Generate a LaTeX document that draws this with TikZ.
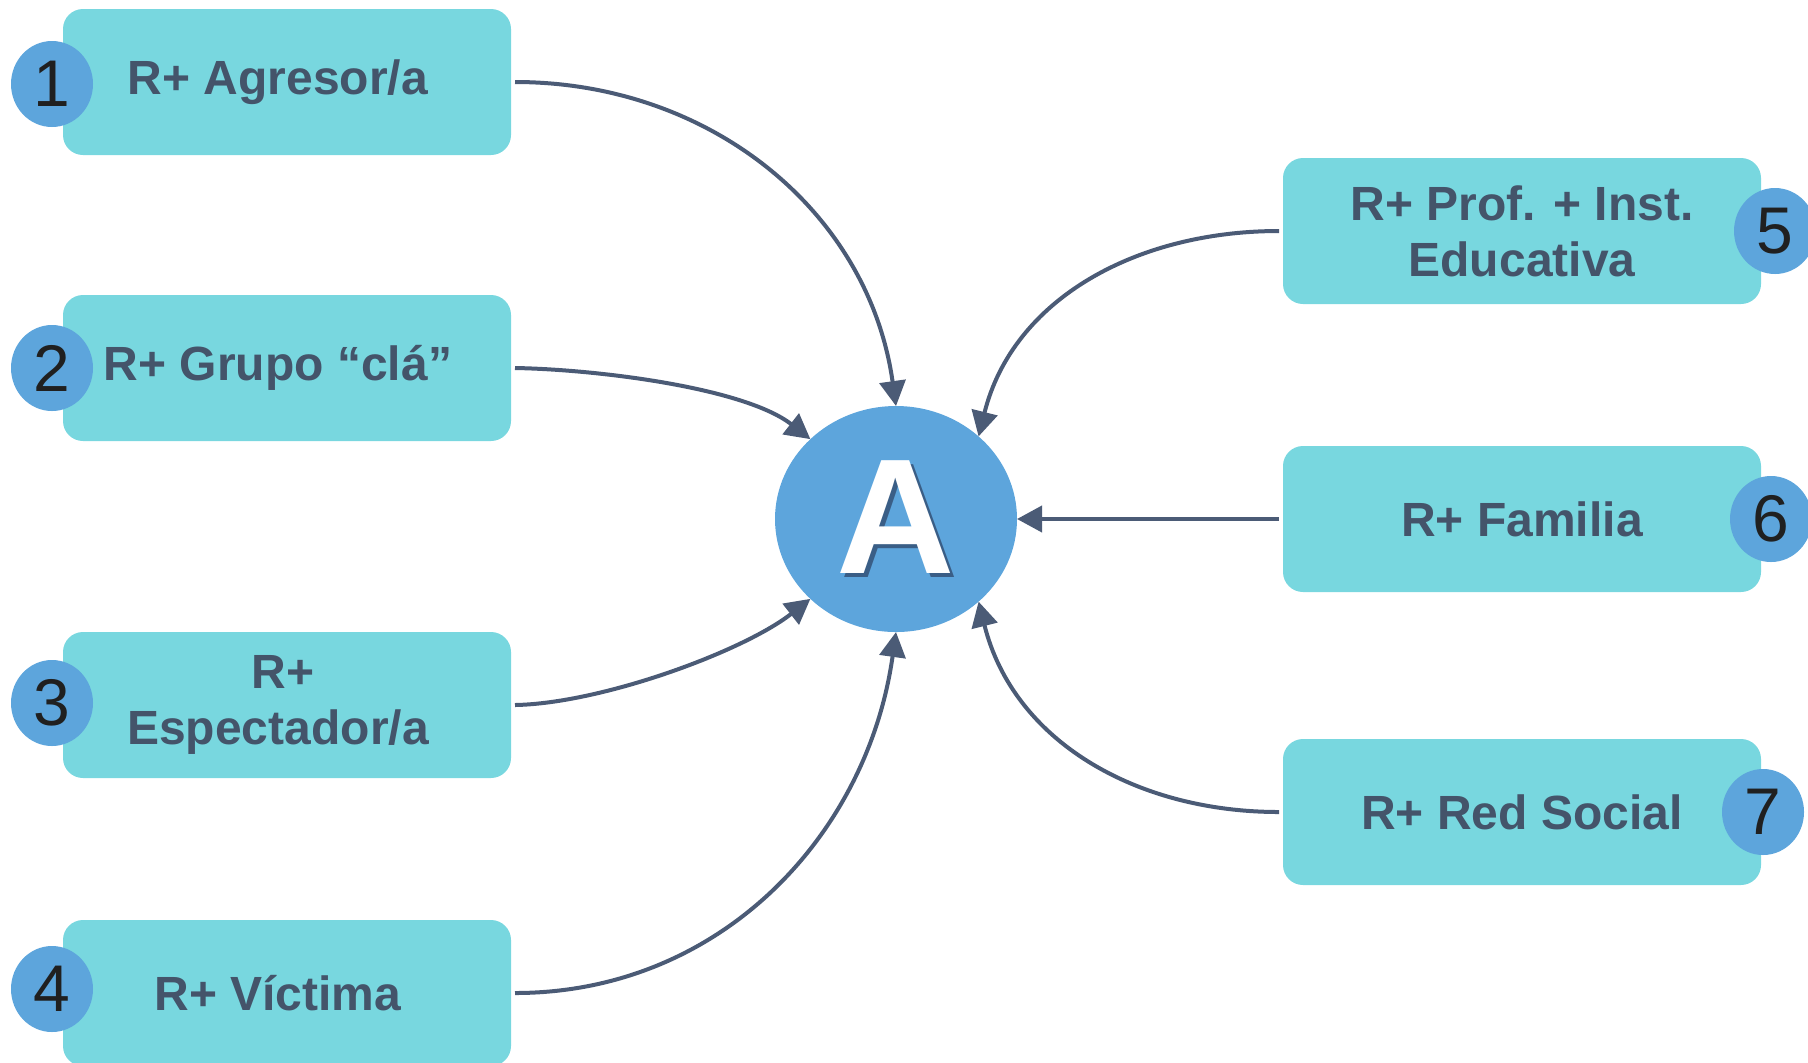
\documentclass[tikz,border=0pt]{standalone}
\usepackage{fontspec}
\setmainfont{Liberation Sans}
\usetikzlibrary{shapes.geometric,arrows.meta,positioning}

\definecolor{boxfill}{HTML}{78D7DF}
\definecolor{numfill}{HTML}{5DA5DC}
\definecolor{txtcol}{HTML}{44546A}
\definecolor{arrcol}{HTML}{4B5B76}
\definecolor{numtxt}{HTML}{202020}
\definecolor{ashadow}{HTML}{3A5E86}
\newcommand{\shadowedA}{\makebox[0pt][l]{\hspace{2pt}\raisebox{-2pt}{\color{ashadow}A}}A}

\begin{document}
\begin{tikzpicture}[x=0.5pt,y=0.5pt,
   relbox/.style={rectangle,rounded corners=10pt,fill=boxfill,text=txtcol,
      font=\fontsize{24}{28}\selectfont\bfseries,align=center,
      minimum height=73pt,outer sep=2pt},
   leftbox/.style={relbox,minimum width=224pt},
   rightbox/.style={relbox,minimum width=239pt},
   numdot/.style={ellipse,fill=numfill,text=numtxt,inner sep=0pt,
      font=\fontsize{33}{36}\selectfont,minimum width=41pt,minimum height=43pt},
   conn/.style={draw=arrcol,line width=2pt,-{Triangle[length=12.5pt,width=13pt]}}]
   \useasboundingbox (0,0) rectangle (1808,-1062);
   % centre
   \node[ellipse,fill=numfill,text=white,minimum width=121pt,minimum height=113pt,
      inner sep=0pt,outer sep=0pt,font=\fontsize{82}{82}\selectfont\bfseries] (A) at (896,-519) {\shadowedA};
   % left column
   \node[leftbox] (b1) at (287,-82)  {R+ Agresor/a\hspace*{9pt}};
   \node[leftbox] (b2) at (287,-368) {R+ Grupo “clá”\hspace*{9pt}};
   \node[leftbox] (b3) at (287,-705) {R+\hspace*{4pt}\\Espectador/a\hspace*{9pt}};
   \node[leftbox] (b4) at (287,-993) {R+ Víctima\hspace*{9pt}};
   % right column
   \node[rightbox] (b5) at (1522,-231) {R+ Prof. + Inst.\\Educativa};
   \node[rightbox] (b6) at (1522,-519) {R+ Familia};
   \node[rightbox] (b7) at (1522,-812) {R+ Red Social};
   % numbers
   \node[numdot] (n1) at ([xshift=-3.5pt,yshift=-1pt]b1.west) {1};
   \node[numdot] (n2) at ([xshift=-3.5pt]b2.west) {2};
   \node[numdot] (n3) at ([xshift=-3.5pt,yshift=1pt]b3.west) {3};
   \node[numdot] (n4) at ([xshift=-3.5pt,yshift=2pt]b4.west) {4};
   \node[numdot] (n5) at ([xshift=5pt]b5.east) {5};
   \node[numdot] (n6) at ([xshift=3pt]b6.east) {6};
   \node[numdot] (n7) at ([xshift=-1pt]b7.east) {7};
   \path
        (b1.east) edge[conn,out=0,in=98]   (A.north)
        (b2.east) edge[conn,out=-1,in=142,looseness=0.7] (A.137)
        (b3.east) edge[conn,out=1,in=218,looseness=0.7]  (A.223)
        (b4.east) edge[conn,out=0,in=262]  (A.south)
        (b5.west) edge[conn,out=180,in=76] (A.45)
        (b6.west) edge[conn]               (A.east)
        (b7.west) edge[conn,out=180,in=-76] (A.-45)
        ;
\end{tikzpicture}
\end{document}
